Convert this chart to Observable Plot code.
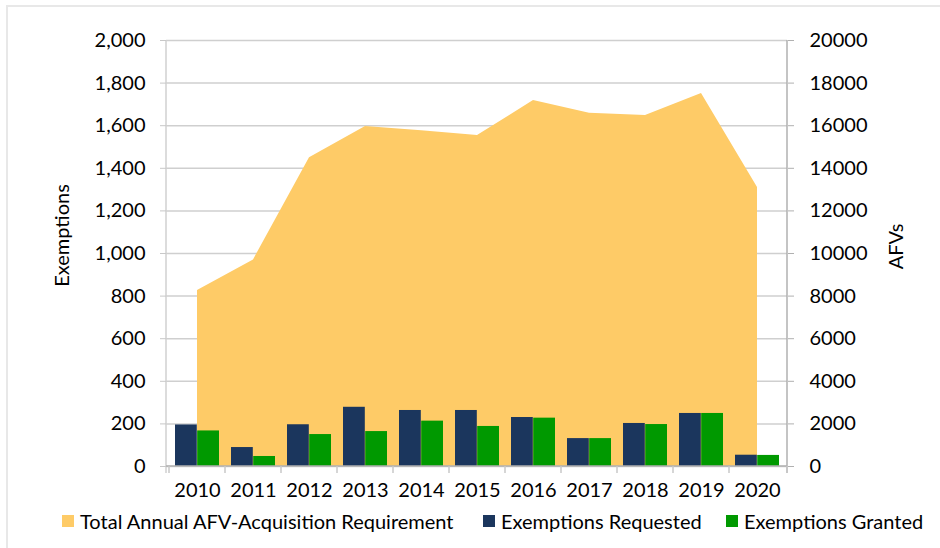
<!DOCTYPE html>
<html><head><meta charset="utf-8">
<script src="https://cdn.jsdelivr.net/npm/d3@7"></script>
<script src="https://cdn.jsdelivr.net/npm/@observablehq/plot@0.6"></script>
<style>
body{margin:0;background:#fff;}
#wrap{position:relative;width:940px;height:548px;overflow:hidden;font-family:Lato,"Open Sans",sans-serif;background:#fff;}
#border{position:absolute;left:6px;top:5px;width:1200px;height:1200px;border:2px solid #e8e8e8;box-sizing:border-box;}
#chart{position:absolute;left:0;top:0;}
.lg{position:absolute;top:510px;height:22px;display:flex;align-items:center;font-size:20px;color:#000;white-space:nowrap;}
.sw{width:12px;height:12px;margin-right:6px;}
</style></head>
<body><div id="wrap"><div id="border"></div><div id="chart"></div>
<div class="lg" style="left:62px"><div class="sw" style="background:#FECB67"></div>Total Annual AFV-Acquisition Requirement</div>
<div class="lg" style="left:483px"><div class="sw" style="background:#1B365D"></div>Exemptions Requested</div>
<div class="lg" style="left:726px"><div class="sw" style="background:#009900"></div>Exemptions Granted</div>
</div>
<script>
const years = ["2010","2011","2012","2013","2014","2015","2016","2017","2018","2019","2020"];
const afvRequirement = [8260, 9700, 14500, 15960, 15760, 15540, 17180, 16590, 16480, 17510, 13100];
const exemptionsRequested = [195, 89, 196, 278, 263, 263, 230, 131, 202, 249, 53];
const exemptionsGranted = [167, 47, 150, 164, 213, 188, 227, 131, 197, 249, 52];
const leftTicks = [0,200,400,600,800,1000,1200,1400,1600,1800,2000];

const rows = years.map((y,i)=>({year:y, afv:afvRequirement[i], req:exemptionsRequested[i], gr:exemptionsGranted[i]}));

const frameLines = (index, scales, values, dims) => {
  const ns = "http://www.w3.org/2000/svg";
  const g = document.createElementNS(ns, "g");
  const L = dims.marginLeft, R = dims.width - dims.marginRight;
  const T = dims.marginTop, B = dims.height - dims.marginBottom;
  const line = (x1,y1,x2,y2,c)=>{const l=document.createElementNS(ns,"line");
    l.setAttribute("x1",x1);l.setAttribute("y1",y1);l.setAttribute("x2",x2);l.setAttribute("y2",y2);
    l.setAttribute("stroke",c);l.setAttribute("stroke-width",1.5);g.appendChild(l);};
  line(L,T,L,B+7,"#d0d0d0");
  line(R,T,R,B+7,"#b0b0b0");
  line(L,B,R,B,"#b0b0b0");
  years.forEach(y=>{const x=scales.x(y); line(x,B,x,B+7,"#c8c8c8");});
  line(R,B,R,B+7,"#c8c8c8");
  return g;
};

const chart = Plot.plot({
  width: 940, height: 548,
  marginLeft: 166, marginRight: 153, marginTop: 40, marginBottom: 82,
  style: {fontFamily: "Lato, 'Open Sans', sans-serif", fontSize: "20px", color: "#000", background: "transparent"},
  x: {type: "band", domain: years, padding: 0},
  y: {domain: [0, 2000]},
  marks: [
    Plot.gridY(leftTicks, {stroke: "#cfcfcf", strokeOpacity: 1, strokeWidth: 1.5}),
    Plot.areaY(rows, {x: "year", y: d => d.afv / 10, fill: "#FECB67", curve: "linear"}),
    Plot.barY(rows, {x: "year", y: "req", fill: "#1B365D", insetLeft: 6, insetRight: 28.2}),
    Plot.barY(rows, {x: "year", y: "gr", fill: "#009900", insetLeft: 28.2, insetRight: 6}),
    frameLines,
    Plot.axisY(leftTicks, {anchor: "left", tickSize: 6, tickPadding: 15, stroke: "#c8c8c8", tickFormat: d3.format(","), label: null, fontSize: 20}),
    Plot.axisY(leftTicks, {anchor: "right", tickSize: 6, tickPadding: 16, stroke: "#b0b0b0", tickFormat: d => String(d * 10), label: null, fontSize: 20}),
    Plot.axisX({tickSize: 0, tickPadding: 16, label: null, fontSize: 20}),
    Plot.text(["Exemptions"], {frameAnchor: "left", textAnchor: "middle", dx: -104, dy: -18, rotate: -90, fontSize: 20}),
    Plot.text(["AFVs"], {frameAnchor: "right", textAnchor: "middle", dx: 109, dy: -7, rotate: -90, fontSize: 20})
  ]
});
document.getElementById("chart").appendChild(chart);
</script>
</body></html>
